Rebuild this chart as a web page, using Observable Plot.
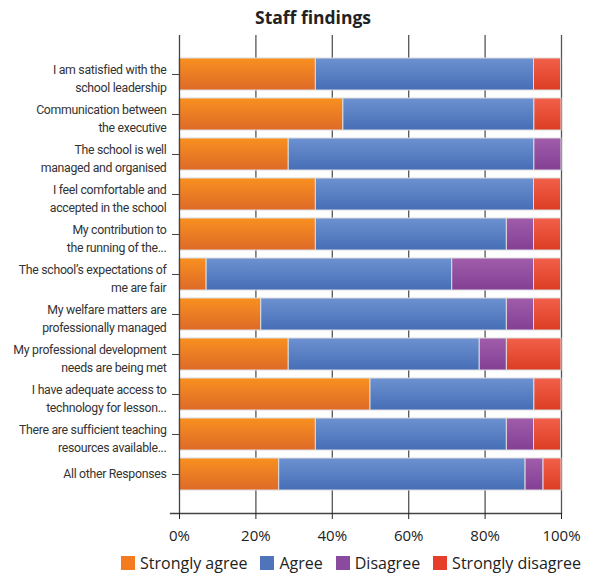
<!DOCTYPE html>
<html>
<head>
<meta charset="utf-8">
<script src="https://cdn.jsdelivr.net/npm/d3@7"></script>
<script src="https://cdn.jsdelivr.net/npm/@observablehq/plot@0.6"></script>
<style>
  html, body { margin: 0; padding: 0; background: #fff; }
  #wrap { position: relative; width: 597px; height: 573px; font-family: "Open Sans", sans-serif; }
  #title { position: absolute; left: 255px; top: 5px; font-weight: bold; font-size: 17.5px; color: #222; white-space: nowrap; }
  #chart { position: absolute; left: 0; top: 28px; }
  #legend { position: absolute; left: 121px; top: 552px; display: flex; align-items: center; font-size: 16px; color: #222; white-space: nowrap; }
  #legend .item { display: flex; align-items: center; margin-right: 13px; }
  #legend .sw { width: 14px; height: 14px; margin-right: 5px; }
  .catlabel text { letter-spacing: -0.3px; }
</style>
</head>
<body>
<div id="wrap">
  <div id="title">Staff findings</div>
  <div id="chart"></div>
  <div id="legend"></div>
</div>
<script>
const categories = [
  "I am satisfied with the\nschool leadership",
  "Communication between\nthe executive",
  "The school is well\nmanaged and organised",
  "I feel comfortable and\naccepted in the school",
  "My contribution to\nthe running of the...",
  "The school\u2019s expectations of\nme are fair",
  "My welfare matters are\nprofessionally managed",
  "My professional development\nneeds are being met",
  "I have adequate access to\ntechnology for lesson...",
  "There are sufficient teaching\nresources available...",
  "All other Responses"
];
const seriesNames = ["Strongly agree", "Agree", "Disagree", "Strongly disagree"];
const stronglyAgree    = [35.7, 42.9, 28.6, 35.7, 35.7,  7.1, 21.4, 28.6, 50.0, 35.7, 26.1];
const agree            = [57.1, 50.0, 64.3, 57.1, 50.0, 64.3, 64.3, 50.0, 42.9, 50.0, 64.5];
const disagree         = [ 0.0,  0.0,  7.1,  0.0,  7.1, 21.4,  7.1,  7.1,  0.0,  7.1,  4.7];
const stronglyDisagree = [ 7.1,  7.1,  0.0,  7.1,  7.1,  7.1,  7.1, 14.3,  7.1,  7.1,  4.7];
const xTicks = [0, 20, 40, 60, 80, 100];

const legendColors = ["#F47B20", "#4F74BA", "#8A4B9E", "#E63E2B"];
const gradStops = [
  ["#F8901F", "#DE6A28"],
  ["#6D91D0", "#466EB6"],
  ["#9F5DAA", "#843F94"],
  ["#F2604A", "#DC3D24"]
];

const seriesValues = [stronglyAgree, agree, disagree, stronglyDisagree];
const table = [];
categories.forEach((c, i) => {
  seriesNames.forEach((s, j) => {
    table.push({category: c, series: s, value: seriesValues[j][i]});
  });
});

const labelFont = "Roboto, sans-serif";

const svg = Plot.plot({
  width: 597,
  height: 520,
  marginLeft: 179,
  marginRight: 36,
  marginTop: 7,
  marginBottom: 35,
  style: {fontFamily: "Open Sans, sans-serif", fontSize: "15px", color: "#222", background: "transparent"},
  x: {domain: [0, 100]},
  y: {domain: categories, paddingInner: 0.2, paddingOuter: 0.57},
  color: {domain: seriesNames, range: seriesNames.map((s, i) => `url(#grad${i})`)},
  marks: [
    Plot.ruleX([20, 40, 60, 80, 100], {stroke: "#555", strokeWidth: 1.3}),
    Plot.barX(table, {y: "category", x: "value", fill: "series", stroke: "#dcdcdc", strokeWidth: 1}),
    Plot.ruleX([0], {stroke: "#444", strokeWidth: 1.3}),
    Plot.frame({anchor: "bottom", insetLeft: -9, stroke: "#444", strokeWidth: 1.3}),
    Plot.axisY({tickSize: 7, tickFormat: () => "", label: null, stroke: "#444"}),
    Plot.axisX({ticks: xTicks, tickFormat: d => d + "%", tickSize: 6, tickPadding: 11, label: null, fontSize: 15, fill: "#222"}),
    Plot.text(categories.filter(c => c.includes("\n")), {
      y: d => d, text: d => d, frameAnchor: "left", dx: -13, dy: 3, className: "catlabel",
      textAnchor: "end", lineHeight: 1.46, fontSize: 12.3, fontFamily: labelFont, fill: "#333"
    }),
    Plot.text(categories.filter(c => !c.includes("\n")), {
      y: d => d, text: d => d, frameAnchor: "left", dx: -13, className: "catlabel",
      textAnchor: "end", fontSize: 12.3, fontFamily: labelFont, fill: "#333"
    })
  ]
});

const defs = gradStops.map((g, i) =>
  `<linearGradient id="grad${i}" x1="0" y1="0" x2="0" y2="1"><stop offset="0" stop-color="${g[0]}"/><stop offset="1" stop-color="${g[1]}"/></linearGradient>`
).join("");
svg.insertAdjacentHTML("afterbegin", `<defs>${defs}</defs>`);
document.getElementById("chart").appendChild(svg);

const legend = document.getElementById("legend");
seriesNames.forEach((s, i) => {
  const item = document.createElement("div");
  item.className = "item";
  item.innerHTML = `<div class="sw" style="background:${legendColors[i]}"></div><span>${s}</span>`;
  legend.appendChild(item);
});
</script>
</body>
</html>
